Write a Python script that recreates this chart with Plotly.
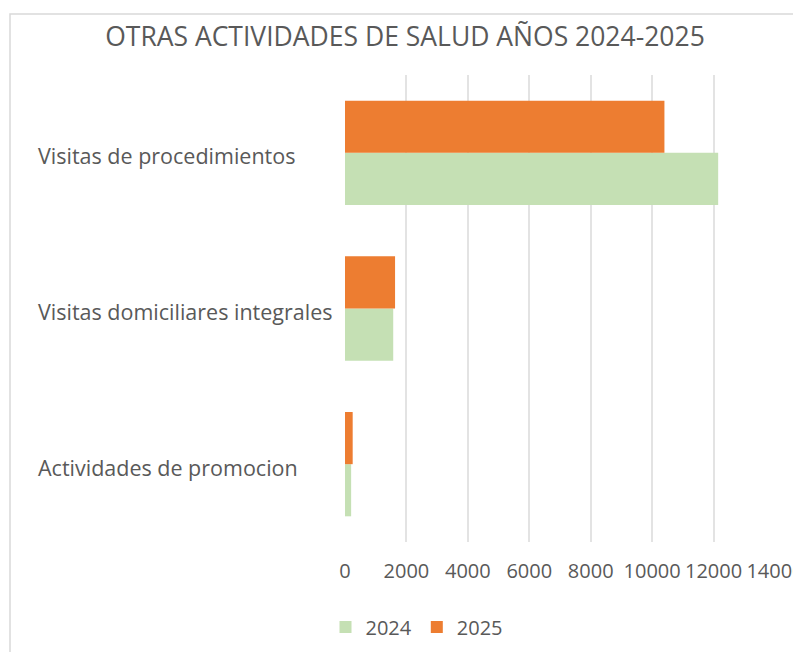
import plotly.graph_objects as go

categories = ["Actividades de promocion", "Visitas domiciliares integrales", "Visitas de procedimientos"]
values_2024 = [200, 1570, 12150]
values_2025 = [250, 1630, 10400]
series_names = ["2024", "2025"]
x_ticks = [0, 2000, 4000, 6000, 8000, 10000, 12000, 14000]
title_text = "OTRAS ACTIVIDADES DE SALUD AÑOS 2024-2025"

GREEN = "#c5e0b4"
ORANGE = "#ed7d31"
TXT = "#595959"
FONT = "Open Sans, sans-serif"

# page body has an 8px default margin; layout below compensates for it
L, T, PW, PH = 337, 67, 430, 467

fig = go.Figure()
fig.add_trace(go.Bar(y=categories, x=values_2024, name=series_names[0], orientation="h",
                     marker=dict(color=GREEN, line=dict(width=0))))
fig.add_trace(go.Bar(y=categories, x=values_2025, name=series_names[1], orientation="h",
                     marker=dict(color=ORANGE, line=dict(width=0))))

for c in categories:
    fig.add_annotation(x=(28 - L) / PW, xref="paper", y=c, yref="y", text=c, showarrow=False,
                       xanchor="left", yanchor="middle", yshift=-3,
                       font=dict(family=FONT, size=21.5, color=TXT))

fig.update_layout(
    width=801, height=652,
    margin=dict(l=L, r=801 - L - PW, t=T, b=652 - T - PH, autoexpand=False),
    paper_bgcolor="white", plot_bgcolor="white",
    barmode="group", bargap=0.33, bargroupgap=0,
    title=dict(text=title_text, x=397 / 801, xref="container", xanchor="center",
               y=1 - 29 / 652, yref="container", yanchor="middle",
               font=dict(family=FONT, size=26.5, color=TXT)),
    xaxis=dict(range=[0, 14000], tickvals=x_ticks, ticktext=[str(t) for t in x_ticks],
               showgrid=True, gridcolor="#e3e3e3", gridwidth=2, zeroline=False,
               showline=False, ticks="", automargin=False, ticklabelstandoff=15,
               tickfont=dict(family=FONT, size=20, color=TXT)),
    yaxis=dict(showticklabels=False, showgrid=False, zeroline=False, showline=False, ticks=""),
    legend=dict(orientation="h", x=(409 - L) / PW, xanchor="center", y=-(619 - T - PH) / PH,
                yanchor="middle", font=dict(family=FONT, size=20, color=TXT),
                itemwidth=30, traceorder="normal"),
    showlegend=True,
)

fig.add_shape(type="rect", xref="paper", yref="paper",
              x0=(2 - L) / PW, x1=(792 - L) / PW,
              y0=-0.4, y1=1 + (T - 6) / PH,
              line=dict(color="#d9d9d9", width=1.5), fillcolor="rgba(0,0,0,0)", layer="below")

fig.write_html("out.html")
